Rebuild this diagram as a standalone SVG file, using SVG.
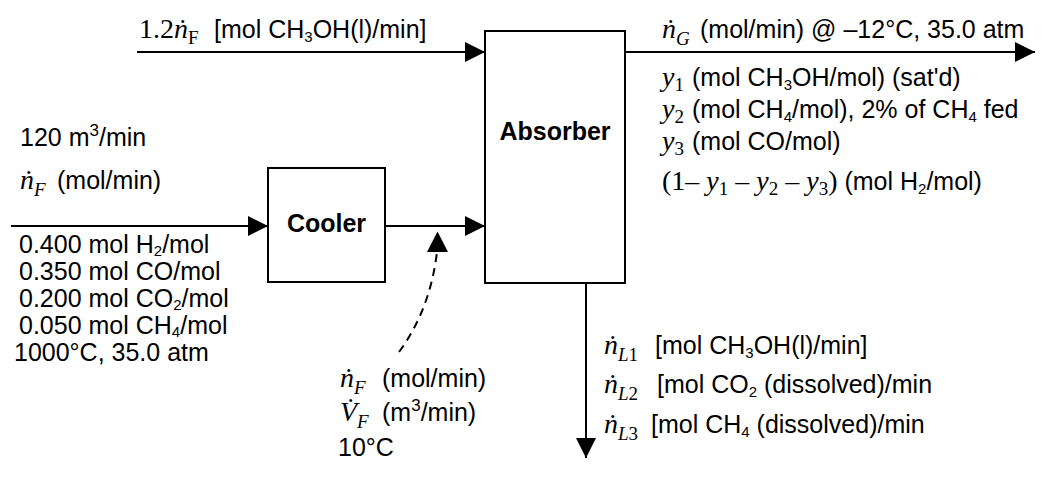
<svg xmlns="http://www.w3.org/2000/svg" width="1057" height="481" viewBox="0 0 1057 481">
<defs>
<style>
.t{font-family:"Liberation Sans",Arial,sans-serif;font-size:25px;fill:#000}
.b{font-family:"Liberation Sans",Arial,sans-serif;font-size:25px;font-weight:bold;fill:#000}
.m{font-family:"Liberation Serif","Times New Roman",serif;font-size:28px;fill:#000}
.s{font-size:19px}
.ss{font-size:15px}
.sp{font-size:17px}
.i{font-style:italic}
.box{fill:#fff;stroke:#000;stroke-width:2}
.ln{fill:none;stroke:#000;stroke-width:2}
.dash{fill:none;stroke:#000;stroke-width:2;stroke-dasharray:8,6}
</style>
<marker id="ah" markerWidth="20" markerHeight="20" viewBox="0 0 20 20" refX="20" refY="10" orient="auto" markerUnits="userSpaceOnUse">
<path d="M0,0 L20,10 L0,20 Z" fill="#000"/>
</marker>
</defs>
<rect width="1057" height="481" fill="#fff"/>
<g id="connectors">
<line class="ln" x1="137" y1="52" x2="485" y2="52" marker-end="url(#ah)"/>
<line class="ln" x1="625" y1="52" x2="1035" y2="52" marker-end="url(#ah)"/>
<line class="ln" x1="11" y1="226" x2="268" y2="226" marker-end="url(#ah)"/>
<line class="ln" x1="385" y1="226" x2="485" y2="226" marker-end="url(#ah)"/>
<line class="ln" x1="586" y1="283" x2="586" y2="458" marker-end="url(#ah)"/>
<path class="dash" d="M399,352 Q430,310 437,252"/>
<path d="M427,252 L437.5,231.5 L448,252 Z" fill="#000"/>
</g>
<g id="absorber">
<rect class="box" x="485" y="31" width="140" height="252"/>
<text class="b" x="555" y="140" text-anchor="middle">Absorber</text>
</g>
<g id="cooler">
<rect class="box" x="268" y="168" width="117" height="114"/>
<text class="b" x="326.5" y="232" text-anchor="middle">Cooler</text>
</g>
<g id="labels">
<text x="139" y="38"><tspan class="m">1.2</tspan><tspan class="m i">ṅ</tspan><tspan class="m s" dy="6">F</tspan><tspan class="t" x="214" dy="-6">[mol CH</tspan><tspan class="t ss" dy="4">3</tspan><tspan class="t" dy="-4">OH(l)/min]</tspan></text>
<text x="662" y="38"><tspan class="m i">ṅ</tspan><tspan class="m i s" dy="7">G</tspan><tspan class="t" x="700" dy="-7">(mol/min) @ –12°C, 35.0 atm</tspan></text>
<text x="662" y="86"><tspan class="m i">y</tspan><tspan class="m s" dy="5">1</tspan><tspan class="t" x="692" dy="-5">(mol CH</tspan><tspan class="t ss" dy="4">3</tspan><tspan class="t" dy="-4">OH/mol) (sat'd)</tspan></text>
<text x="662" y="118"><tspan class="m i">y</tspan><tspan class="m s" dy="5">2</tspan><tspan class="t" x="692" dy="-5">(mol CH</tspan><tspan class="t ss" dy="4">4</tspan><tspan class="t" dy="-4">/mol), 2% of CH</tspan><tspan class="t ss" dy="4">4</tspan><tspan class="t" dy="-4"> fed</tspan></text>
<text x="662" y="150"><tspan class="m i">y</tspan><tspan class="m s" dy="5">3</tspan><tspan class="t" x="692" dy="-5">(mol CO/mol)</tspan></text>
<text x="662" y="190"><tspan class="m">(1– </tspan><tspan class="m i">y</tspan><tspan class="m s" dy="5">1</tspan><tspan class="m" dy="-5"> – </tspan><tspan class="m i">y</tspan><tspan class="m s" dy="5">2</tspan><tspan class="m" dy="-5"> – </tspan><tspan class="m i">y</tspan><tspan class="m s" dy="5">3</tspan><tspan class="m" dy="-5">)</tspan><tspan class="t"> (mol H</tspan><tspan class="t ss" dy="4">2</tspan><tspan class="t" dy="-4">/mol)</tspan></text>
<text class="t" x="20" y="146">120 m<tspan class="sp" dy="-10">3</tspan><tspan dy="10">/min</tspan></text>
<text x="20" y="189"><tspan class="m i">ṅ</tspan><tspan class="m i s" dy="7">F</tspan><tspan class="t" x="57" dy="-7">(mol/min)</tspan></text>
<text class="t" x="19" y="253">0.400 mol H<tspan class="ss" dy="3">2</tspan><tspan dy="-3">/mol</tspan></text>
<text class="t" x="19" y="280">0.350 mol CO/mol</text>
<text class="t" x="19" y="307">0.200 mol CO<tspan class="ss" dy="3">2</tspan><tspan dy="-3">/mol</tspan></text>
<text class="t" x="19" y="334">0.050 mol CH<tspan class="ss" dy="3">4</tspan><tspan dy="-3">/mol</tspan></text>
<text class="t" x="14" y="361">1000°C, 35.0 atm</text>
<text x="340" y="387"><tspan class="m i">ṅ</tspan><tspan class="m i s" dy="7">F</tspan><tspan class="t" x="382" dy="-7">(mol/min)</tspan></text>
<text x="340" y="421"><tspan class="m i">V̇</tspan><tspan class="m i s" dy="7">F</tspan><tspan class="t" x="382" dy="-7">(m</tspan><tspan class="t sp" dy="-10">3</tspan><tspan class="t" dy="10">/min)</tspan></text>
<text class="t" x="338" y="456">10°C</text>
<text x="604" y="354"><tspan class="m i">ṅ</tspan><tspan class="m i s" dy="7">L</tspan><tspan class="m s">1</tspan><tspan class="t" x="655" dy="-7">[mol CH</tspan><tspan class="t ss" dy="4">3</tspan><tspan class="t" dy="-4">OH(l)/min]</tspan></text>
<text x="604" y="393"><tspan class="m i">ṅ</tspan><tspan class="m i s" dy="7">L</tspan><tspan class="m s">2</tspan><tspan class="t" x="657" dy="-7">[mol CO</tspan><tspan class="t ss" dy="4">2</tspan><tspan class="t" dy="-4"> (dissolved)/min</tspan></text>
<text x="604" y="433"><tspan class="m i">ṅ</tspan><tspan class="m i s" dy="7">L</tspan><tspan class="m s">3</tspan><tspan class="t" x="651" dy="-7">[mol CH</tspan><tspan class="t ss" dy="4">4</tspan><tspan class="t" dy="-4"> (dissolved)/min</tspan></text>
</g>
</svg>
